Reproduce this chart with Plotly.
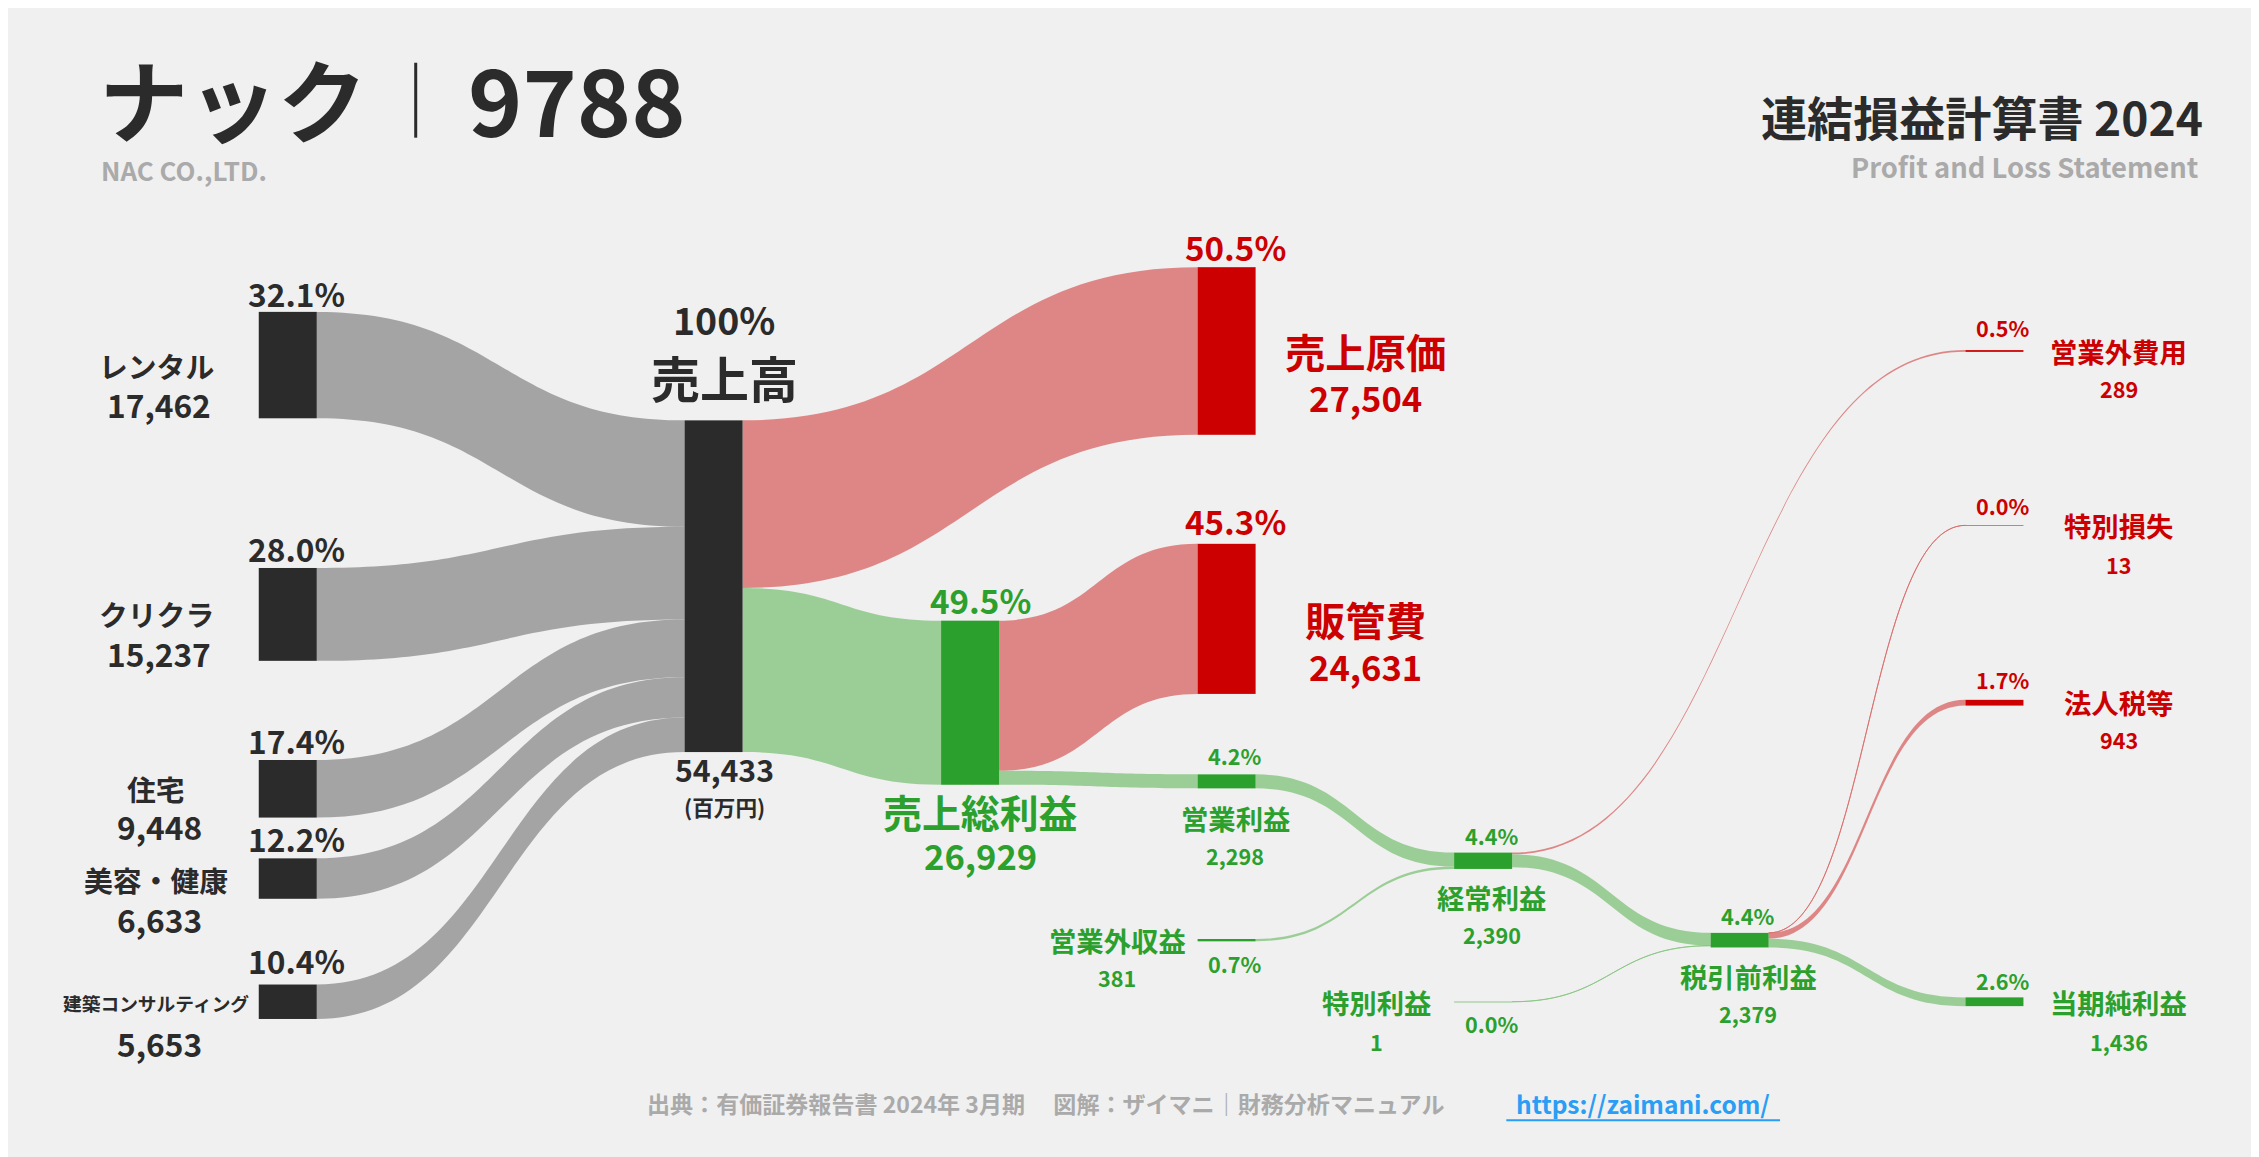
import plotly.graph_objects as go

W, H = 2259, 1157
S = W / 1568  # layout sketched on a 1568-wide grid

segments = ["レンタル", "クリクラ", "住宅", "美容・健康", "建築コンサルティング"]
segment_values = [17462, 15237, 9448, 6633, 5653]
revenue = 54433
cost_of_sales = 27504
gross_profit = 26929
sga = 24631
operating_income = 2298
non_op_income = 381
ordinary_income = 2390
non_op_expense = 289
extraordinary_gain = 1
pretax_income = 2379
extraordinary_loss = 13
income_tax = 943
net_income = 1436

DARK = "#2b2b2b"
RED = "#cc0000"
GREEN = "#2ca02c"
GRAY_LINK = "rgba(150,150,150,0.85)"
RED_LINK = "rgba(218,108,106,0.8)"
GREEN_LINK = "rgba(134,196,128,0.8)"

# node order: 0-4 segments, 5 売上高, 6 原価, 7 総利益, 8 販管費, 9 営業利益,
# 10 営業外収益, 11 経常利益, 12 営業外費用, 13 特別利益, 14 税引前, 15 特別損失, 16 法人税等, 17 純利益
node_x = [0.001] * 5 + [0.25, 0.55, 0.40, 0.55, 0.55, 0.55, 0.70, 0.999, 0.70, 0.85, 0.999, 0.999, 0.999]
node_y = [0.122, 0.458, 0.693, 0.814, 0.98, 0.42, 0.103, 0.577, 0.464, 0.683,
          0.897, 0.79, 0.103, 0.98, 0.897, 0.338, 0.577, 0.98]
node_col = [DARK] * 6 + [RED, GREEN, RED, GREEN, GREEN, GREEN, RED, GREEN, GREEN, RED, RED, GREEN]

src = [0, 1, 2, 3, 4, 5, 5, 7, 7, 9, 10, 11, 11, 13, 14, 14, 14]
tgt = [5, 5, 5, 5, 5, 6, 7, 8, 9, 11, 11, 12, 14, 14, 15, 16, 17]
val = segment_values + [cost_of_sales, gross_profit, sga, operating_income, operating_income,
                        non_op_income, non_op_expense, ordinary_income - non_op_expense,
                        extraordinary_gain, extraordinary_loss, income_tax, net_income]
link_col = [GRAY_LINK] * 5 + [RED_LINK, GREEN_LINK, RED_LINK, GREEN_LINK, GREEN_LINK, GREEN_LINK,
                              RED_LINK, GREEN_LINK, GREEN_LINK, RED_LINK, RED_LINK, GREEN_LINK]

fig = go.Figure(go.Sankey(
    arrangement="fixed",
    domain=dict(x=[193 / 1568, 1380 / 1568], y=[1 - 700 / 803, 1 - 185 / 803]),
    node=dict(label=[""] * 18, x=node_x, y=node_y, color=node_col, pad=68,
              thickness=58, line=dict(width=0)),
    link=dict(source=src, target=tgt, value=val, color=link_col),
    hoverinfo="none",
))

FONT = "Noto Sans CJK JP"
ann = []


def txt(x, y, s, size, color=DARK, xanchor="center", bold=True):
    ann.append(dict(x=x / 1568, y=1 - y / 803, xref="paper", yref="paper", text=f"<b>{s}</b>" if bold else s,
                    showarrow=False, xanchor=xanchor, yanchor="middle",
                    font=dict(size=size * S, color=color, family=FONT)))


# header
txt(62, 62, "ナック", 62, xanchor="left")
txt(318, 62, "9788", 64, xanchor="left")
txt(63, 112, "NAC CO.,LTD.", 18, "#aaaaaa", xanchor="left")
txt(1525, 75, "連結損益計算書 2024", 32, xanchor="right")
txt(1522, 110, "Profit and Loss Statement", 19, "#aaaaaa", xanchor="right")
# footer
txt(720, 760, "出典：有価証券報告書 2024年 3月期　 図解：ザイマニ｜財務分析マニュアル", 16, "#aaaaaa")
txt(1135, 760, "https://zaimani.com/", 17, "#2a9df4")

# segments
seg_pos = [(198, 248, 275), (375, 420, 448), (508, 542, 568), (576, 605, 632), (661, 690, 718)]
for name, v, (py, ny, vy) in zip(segments, segment_values, seg_pos):
    txt(200, py, f"{v / revenue * 100:.1f}%", 22)
    txt(103, ny, name, 13 if len(name) > 6 else 20)
    txt(105, vy, f"{v:,}", 22)

txt(497, 216, "100%", 26)
txt(497, 256, "売上高", 34)
txt(497, 528, f"{revenue:,}", 21)
txt(497, 554, "(百万円)", 15)

txt(852, 166, f"{cost_of_sales / revenue * 100:.1f}%", 23, RED)
txt(942, 238, "売上原価", 28, RED)
txt(942, 270, f"{cost_of_sales:,}", 24, RED)
txt(852, 356, f"{sga / revenue * 100:.1f}%", 23, RED)
txt(942, 424, "販管費", 28, RED)
txt(942, 457, f"{sga:,}", 24, RED)

txt(675, 411, f"{gross_profit / revenue * 100:.1f}%", 23, GREEN)
txt(675, 557, "売上総利益", 27, GREEN)
txt(675, 588, f"{gross_profit:,}", 24, GREEN)

small = [
    (852, 519, 562, 588, operating_income, "営業利益"),
    (1030, 574, 617, 643, ordinary_income, "経常利益"),
    (1208, 630, 672, 698, pretax_income, "税引前利益"),
]
for x, py, ny, vy, v, name in small:
    txt(x, py, f"{v / revenue * 100:.1f}%", 15, GREEN)
    txt(x, ny, name, 19, GREEN)
    txt(x, vy, f"{v:,}", 15, GREEN)

txt(770, 647, "営業外収益", 19, GREEN)
txt(770, 673, f"{non_op_income:,}", 15, GREEN)
txt(852, 663, f"{non_op_income / revenue * 100:.1f}%", 15, GREEN)
txt(950, 690, "特別利益", 19, GREEN)
txt(950, 717, f"{extraordinary_gain:,}", 15, GREEN)
txt(1030, 705, f"{extraordinary_gain / revenue * 100:.1f}%", 15, GREEN)

right = [
    (222, 238, 264, non_op_expense, "営業外費用", RED),
    (345, 359, 386, extraordinary_loss, "特別損失", RED),
    (466, 482, 508, income_tax, "法人税等", RED),
    (675, 690, 717, net_income, "当期純利益", GREEN),
]
for py, ny, vy, v, name, c in right:
    txt(1385, py, f"{v / revenue * 100:.1f}%", 15, c)
    txt(1465, ny, name, 19, c)
    txt(1465, vy, f"{v:,}", 15, c)

fig.update_layout(
    width=W, height=H, margin=dict(l=0, r=0, t=0, b=0),
    paper_bgcolor="#f0f0f0", plot_bgcolor="#f0f0f0",
    annotations=ann,
    shapes=[
        dict(type="line", xref="paper", yref="paper", x0=283 / 1568, x1=283 / 1568,
             y0=1 - 38 / 803, y1=1 - 90 / 803, line=dict(color=DARK, width=3)),
        dict(type="line", xref="paper", yref="paper", x0=1040 / 1568, x1=1230 / 1568,
             y0=1 - 772 / 803, y1=1 - 772 / 803, line=dict(color="#2a9df4", width=2)),
    ],
)

fig.write_html("out.html")
